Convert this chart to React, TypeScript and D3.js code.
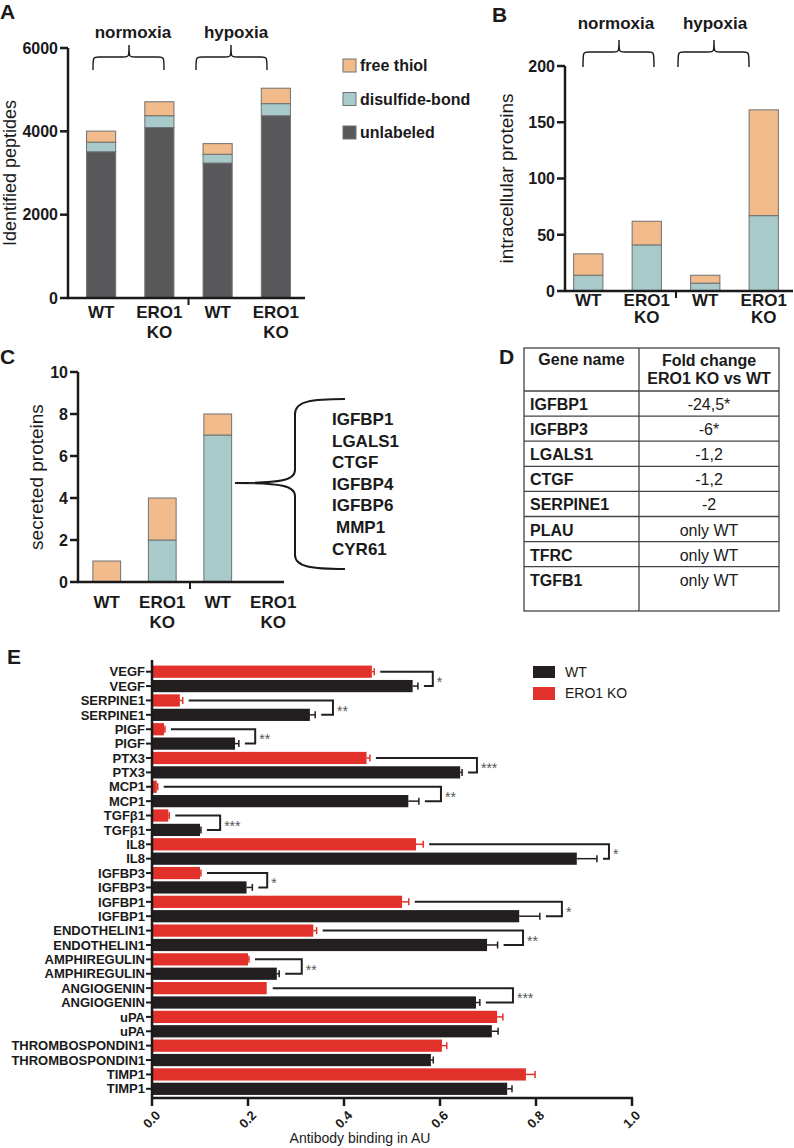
import React from "react";
import * as d3 from "d3";

const FONT = "'Liberation Sans', Arial, Helvetica, sans-serif";

// ---------- Panel A data ----------
const catsA = ["WT", "ERO1 KO", "WT", "ERO1 KO"];
const unlabeledA = [3510, 4090, 3240, 4375];
const disulfideA = [230, 285, 210, 290];
const freeA = [265, 335, 255, 370];
const ticksA = [0, 2000, 4000, 6000];

// ---------- Panel B data ----------
const catsB = ["WT", "ERO1 KO", "WT", "ERO1 KO"];
const disulfideB = [14, 41, 7, 67];
const freeB = [19, 21, 7, 94];
const ticksB = [0, 50, 100, 150, 200];

// ---------- Panel C data ----------
const catsC = ["WT", "ERO1 KO", "WT", "ERO1 KO"];
const disulfideC = [0, 2, 7, 0];
const freeC = [1, 2, 1, 0];
const ticksC = [0, 2, 4, 6, 8, 10];
const genesC = ["IGFBP1", "LGALS1", "CTGF", "IGFBP4", "IGFBP6", "MMP1", "CYR61"];

// ---------- Panel D data ----------
const geneNamesD = ["IGFBP1", "IGFBP3", "LGALS1", "CTGF", "SERPINE1", "PLAU", "TFRC", "TGFB1"];
const foldChangesD = ["-24,5*", "-6*", "-1,2", "-1,2", "-2", "only WT", "only WT", "only WT"];

// ---------- Panel E data ----------
const proteinsE = ["VEGF", "SERPINE1", "PIGF", "PTX3", "MCP1", "TGFβ1", "IL8", "IGFBP3", "IGFBP1", "ENDOTHELIN1", "AMPHIREGULIN", "ANGIOGENIN", "uPA", "THROMBOSPONDIN1", "TIMP1"];
const koValuesE = [0.458, 0.058, 0.025, 0.447, 0.010, 0.034, 0.550, 0.100, 0.521, 0.336, 0.200, 0.239, 0.719, 0.604, 0.779];
const koErrE = [0.005, 0.006, 0.002, 0.007, 0.002, 0.002, 0.015, 0.002, 0.014, 0.007, 0.002, 0.0, 0.012, 0.010, 0.019];
const wtValuesE = [0.543, 0.329, 0.173, 0.642, 0.534, 0.100, 0.885, 0.197, 0.765, 0.698, 0.260, 0.675, 0.708, 0.581, 0.740];
const wtErrE = [0.011, 0.011, 0.008, 0.004, 0.022, 0.002, 0.042, 0.012, 0.043, 0.022, 0.005, 0.008, 0.013, 0.005, 0.010];
const sigXE = [0.585, 0.377, 0.215, 0.677, 0.602, 0.142, 0.952, 0.240, 0.854, 0.773, 0.312, 0.752, null, null, null];
const sigLabelE = ["*", "**", "**", "***", "**", "***", "*", "*", "*", "**", "**", "***", "", "", ""];
const ticksE = [0, 0.2, 0.4, 0.6, 0.8, 1.0];

const COL_FREE = "#F1BB8C";
const COL_DISUL = "#A8CACB";
const COL_UNLAB = "#58585A";
const COL_BAR_STROKE = "#707070";
const COL_WT = "#231F20";
const COL_KO = "#E2312A";
const INK = "#1a1a1a";

function hBrace(x1: number, x2: number, xm: number, yTop: number, yMid: number, yBot: number) {
  const r = 6;
  return `M${x1},${yBot} C${x1},${yMid} ${x1},${yMid} ${x1 + r},${yMid} L${xm - r},${yMid} C${xm},${yMid} ${xm},${yMid} ${xm},${yTop} C${xm},${yMid} ${xm},${yMid} ${xm + r},${yMid} L${x2 - r},${yMid} C${x2},${yMid} ${x2},${yMid} ${x2},${yBot}`;
}

type StackPanelProps = {
  cats: string[];
  series: { key: string; values: number[]; color: string }[];
  ticks: number[];
  yDomain: [number, number];
  yRange: [number, number];
  xRange: [number, number];
  axisX0: number;
  axisX1: number;
  tickFont: number;
  labelY1: number;
  labelY2: number;
  yTitle: string;
  yTitleX: number;
  yTitleFont: number;
};

function StackPanel(p: StackPanelProps) {
  const x = d3.scaleBand<number>().domain(d3.range(p.cats.length)).range(p.xRange).paddingInner(0.5).paddingOuter(0.25);
  const y = d3.scaleLinear().domain(p.yDomain).range(p.yRange);
  const rows = p.cats.map((_, i) => {
    const o: any = { i };
    p.series.forEach((s) => (o[s.key] = s.values[i]));
    return o;
  });
  const stack = d3.stack<any>().keys(p.series.map((s) => s.key))(rows);
  const bw = x.bandwidth();
  const breakX = ((x(1) as number) + bw + (x(2) as number)) / 2;
  const y0 = p.yRange[0];
  const yTitleY = (p.yRange[0] + p.yRange[1]) / 2;
  return (
    <g>
      {stack.map((layer, li) =>
        layer.map((d, i) => {
          const h = y(d[0]) - y(d[1]);
          if (h <= 0) return null;
          return (
            <rect key={`${li}-${i}`} x={x(i)} y={y(d[1])} width={bw} height={h}
              fill={p.series[li].color} stroke={COL_BAR_STROKE} strokeWidth={1} />
          );
        })
      )}
      <line x1={p.axisX0} x2={p.axisX0} y1={p.yRange[1]} y2={y0} stroke={INK} strokeWidth={2.5} />
      <line x1={p.axisX0 - 1} x2={p.axisX1} y1={y0} y2={y0} stroke={INK} strokeWidth={2.5} />
      <line x1={breakX} x2={breakX} y1={y0} y2={y0 + 7} stroke={INK} strokeWidth={2} />
      {p.ticks.map((t) => (
        <g key={t}>
          <line x1={p.axisX0 - 8} x2={p.axisX0} y1={y(t)} y2={y(t)} stroke={INK} strokeWidth={2.5} />
          <text x={p.axisX0 - 10} y={y(t)} dy="0.36em" textAnchor="end" fontSize={p.tickFont} fontWeight="bold" fill={INK}>{t}</text>
        </g>
      ))}
      {p.cats.map((c, i) => {
        const cx = (x(i) as number) + bw / 2;
        const parts = c.split(" ");
        return (
          <g key={i}>
            <text x={cx} y={p.labelY1} textAnchor="middle" fontSize={17} fontWeight="bold" fill={INK}>{parts[0]}</text>
            {parts[1] && (
              <text x={cx} y={p.labelY2} textAnchor="middle" fontSize={17} fontWeight="bold" fill={INK}>{parts[1]}</text>
            )}
          </g>
        );
      })}
      <text transform={`translate(${p.yTitleX},${yTitleY}) rotate(-90)`} textAnchor="middle" fontSize={p.yTitleFont} fontWeight={500} fill={INK}>{p.yTitle}</text>
    </g>
  );
}

export default function App() {
  // Panel E scales
  const rowsE: { name: string; grp: string; v: number; err: number }[] = [];
  proteinsE.forEach((n, i) => {
    rowsE.push({ name: n, grp: "KO", v: koValuesE[i], err: koErrE[i] });
    rowsE.push({ name: n, grp: "WT", v: wtValuesE[i], err: wtErrE[i] });
  });
  const yE = d3.scaleBand<number>().domain(d3.range(rowsE.length)).range([664.5, 1096]).paddingInner(0.15).paddingOuter(0.075);
  const xE = d3.scaleLinear().domain([0, 1]).range([152, 632]);
  const bhE = yE.bandwidth();
  const cyE = (i: number) => (yE(i) as number) + bhE / 2;
  const axisYE = 1098;

  // Panel D layout
  const tL = 524, tR = 779, tC = 639, tTop = 348, tHead = 391, rowH = 25.1, tBot = 611;

  return (
    <svg width={794} height={1148} style={{ position: "absolute", left: 0, top: 0, background: "#fff" }} fontFamily={FONT}>
      <rect x={0} y={0} width={794} height={1148} fill="#fff" />
      {/* Panel letters */}
      <text x={0} y={19} fontSize={21} fontWeight="bold" fill={INK}>A</text>
      <text x={492} y={22} fontSize={21} fontWeight="bold" fill={INK}>B</text>
      <text x={0} y={364} fontSize={21} fontWeight="bold" fill={INK}>C</text>
      <text x={499} y={364} fontSize={21} fontWeight="bold" fill={INK}>D</text>
      <text x={7} y={664} fontSize={21} fontWeight="bold" fill={INK}>E</text>

      {/* Panel A */}
      <StackPanel
        cats={catsA}
        series={[
          { key: "unlabeled", values: unlabeledA, color: COL_UNLAB },
          { key: "disulfide", values: disulfideA, color: COL_DISUL },
          { key: "free", values: freeA, color: COL_FREE },
        ]}
        ticks={ticksA}
        yDomain={[0, 6000]}
        yRange={[298, 48]}
        xRange={[72, 305]}
        axisX0={68}
        axisX1={305}
        tickFont={16}
        labelY1={318}
        labelY2={338}
        yTitle="Identified peptides"
        yTitleX={16}
        yTitleFont={18}
      />
      <text x={133} y={38} textAnchor="middle" fontSize={17} fontWeight="bold" fill={INK}>normoxia</text>
      <text x={236} y={38} textAnchor="middle" fontSize={17} fontWeight="bold" fill={INK}>hypoxia</text>
      <path d={hBrace(93, 164, 129, 45, 57, 70)} fill="none" stroke={INK} strokeWidth={1.4} />
      <path d={hBrace(196, 267, 231, 45, 57, 70)} fill="none" stroke={INK} strokeWidth={1.4} />
      {/* Legend A */}
      {[
        { label: "free thiol", color: COL_FREE },
        { label: "disulfide-bond", color: COL_DISUL },
        { label: "unlabeled", color: COL_UNLAB },
      ].map((l, i) => (
        <g key={l.label}>
          <rect x={343} y={59 + i * 33.5} width={13} height={13} fill={l.color} stroke={COL_BAR_STROKE} strokeWidth={1} />
          <text x={360} y={71 + i * 33.5} fontSize={16} fontWeight="bold" fill={INK}>{l.label}</text>
        </g>
      ))}

      {/* Panel B */}
      <StackPanel
        cats={catsB}
        series={[
          { key: "disulfide", values: disulfideB, color: COL_DISUL },
          { key: "free", values: freeB, color: COL_FREE },
        ]}
        ticks={ticksB}
        yDomain={[0, 200]}
        yRange={[291, 66]}
        xRange={[559, 793]}
        axisX0={565}
        axisX1={793}
        tickFont={16}
        labelY1={306}
        labelY2={323}
        yTitle="intracellular proteins"
        yTitleX={513}
        yTitleFont={19}
      />
      <text x={616} y={29} textAnchor="middle" fontSize={17} fontWeight="bold" fill={INK}>normoxia</text>
      <text x={715} y={29} textAnchor="middle" fontSize={17} fontWeight="bold" fill={INK}>hypoxia</text>
      <path d={hBrace(583, 654, 619, 40, 52, 67)} fill="none" stroke={INK} strokeWidth={1.4} />
      <path d={hBrace(678, 749, 714, 40, 52, 67)} fill="none" stroke={INK} strokeWidth={1.4} />

      {/* Panel C */}
      <StackPanel
        cats={catsC}
        series={[
          { key: "disulfide", values: disulfideC, color: COL_DISUL },
          { key: "free", values: freeC, color: COL_FREE },
        ]}
        ticks={ticksC}
        yDomain={[0, 10]}
        yRange={[582, 372]}
        xRange={[79, 301]}
        axisX0={78}
        axisX1={284}
        tickFont={16}
        labelY1={608}
        labelY2={628}
        yTitle="secreted proteins"
        yTitleX={43}
        yTitleFont={19}
      />
      <path d="M345,399 C312,399 295,401 295,414 L295,470 C295,480 282,483 235,483 C282,483 295,486 295,496 L295,555 C295,567 312,569 345,569"
        fill="none" stroke={INK} strokeWidth={2} />
      {genesC.map((g, i) => (
        <text key={g} x={g === "MMP1" ? 336 : 332} y={425 + i * 21.6} fontSize={17} fontWeight="bold" fill={INK}>{g}</text>
      ))}

      {/* Panel D table */}
      <g stroke="#444" strokeWidth={1.3} fill="none">
        <rect x={tL} y={tTop} width={tR - tL} height={tBot - tTop} />
        <line x1={tC} x2={tC} y1={tTop} y2={tBot} />
        <line x1={tL} x2={tR} y1={tHead} y2={tHead} />
        {geneNamesD.slice(0, -1).map((_, i) => (
          <line key={i} x1={tL} x2={tR} y1={tHead + (i + 1) * rowH} y2={tHead + (i + 1) * rowH} />
        ))}
      </g>
      <text x={(tL + tC) / 2} y={365} textAnchor="middle" fontSize={16} fontWeight="bold" fill={INK}>Gene name</text>
      <text x={(tC + tR) / 2} y={366} textAnchor="middle" fontSize={16} fontWeight="bold" fill={INK}>Fold change</text>
      <text x={(tC + tR) / 2} y={384} textAnchor="middle" fontSize={16} fontWeight="bold" fill={INK}>ERO1 KO vs WT</text>
      {geneNamesD.map((g, i) => (
        <g key={g}>
          <text x={tL + 6} y={tHead + i * rowH + 19} fontSize={16} fontWeight="bold" fill={INK}>{g}</text>
          <text x={(tC + tR) / 2} y={tHead + i * rowH + 19} textAnchor="middle" fontSize={16} fill={INK}>{foldChangesD[i]}</text>
        </g>
      ))}

      {/* Panel E */}
      {rowsE.map((r, i) => {
        const col = r.grp === "KO" ? COL_KO : COL_WT;
        const cy = cyE(i);
        const xe = xE(r.v + r.err);
        return (
          <g key={i}>
            <rect x={xE(0)} y={yE(i)} width={xE(r.v) - xE(0)} height={bhE} fill={col} />
            {r.err > 0 && (
              <g stroke={col} strokeWidth={1.5}>
                <line x1={xE(r.v)} x2={xe} y1={cy} y2={cy} />
                <line x1={xe} x2={xe} y1={cy - 3.5} y2={cy + 3.5} />
              </g>
            )}
            <line x1={146} x2={152} y1={cy} y2={cy} stroke={INK} strokeWidth={2} />
            <text x={145} y={cy} dy="0.36em" textAnchor="end" fontSize={13} fontWeight="bold" fill={INK}>{r.name}</text>
          </g>
        );
      })}
      {proteinsE.map((p, k) => {
        const bx = sigXE[k];
        if (bx === null) return null;
        const yTop = cyE(2 * k);
        const yBot = cyE(2 * k + 1);
        const xTop = xE(koValuesE[k] + koErrE[k]) + 6;
        const xBot = xE(wtValuesE[k] + wtErrE[k]) + 6;
        const X = xE(bx);
        return (
          <g key={p}>
            <path d={`M${xTop},${yTop} H${X} V${yBot} H${xBot}`} fill="none" stroke={COL_WT} strokeWidth={2} />
            <text x={X + 4} y={(yTop + yBot) / 2 + 8} fontSize={14} fill="#555">{sigLabelE[k]}</text>
          </g>
        );
      })}
      <line x1={152} x2={152} y1={660} y2={axisYE} stroke={INK} strokeWidth={2.5} />
      <line x1={151} x2={633} y1={axisYE} y2={axisYE} stroke={INK} strokeWidth={2.5} />
      {ticksE.map((t) => (
        <g key={t}>
          <line x1={xE(t)} x2={xE(t)} y1={axisYE} y2={axisYE + 8} stroke={INK} strokeWidth={2.5} />
          <text transform={`translate(${xE(t) + 6},${axisYE + 15}) rotate(-45)`} textAnchor="end" dy="0.35em" fontSize={13} fontWeight="bold" fill={INK}>{d3.format(".1f")(t)}</text>
        </g>
      ))}
      <text x={360} y={1143} textAnchor="middle" fontSize={14} fill={INK}>Antibody binding in AU</text>
      {/* Legend E */}
      <rect x={533} y={666} width={22} height={12} fill={COL_WT} />
      <text x={565} y={677} fontSize={14} fill={INK}>WT</text>
      <rect x={533} y={687} width={22} height={13} fill={COL_KO} />
      <text x={565} y={698} fontSize={14} fill={INK}>ERO1 KO</text>
    </svg>
  );
}
